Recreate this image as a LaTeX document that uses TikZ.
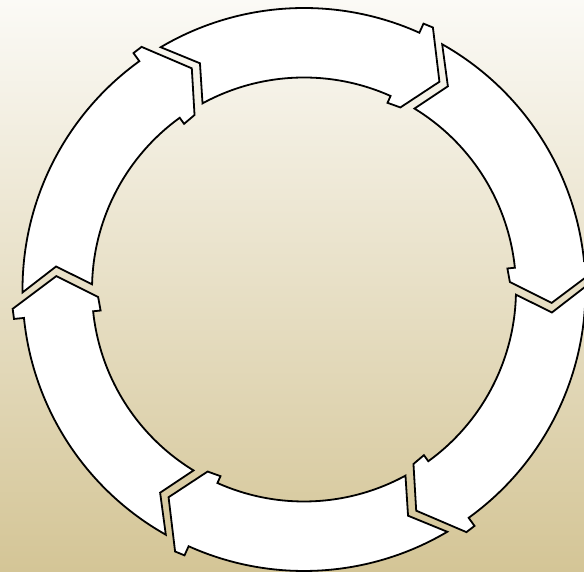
\documentclass[tikz,border=0pt]{standalone}
\definecolor{bgtop}{RGB}{251,250,246}
\definecolor{bgbot}{RGB}{212,197,150}
\begin{document}
\begin{tikzpicture}[x=1pt,y=1pt,
  seg/.style={fill=white,draw=black,line width=1.8pt,line join=miter}]
\useasboundingbox (0,0) rectangle (584,572);
\clip (0,0) rectangle (584,572);
\shade[top color=bgtop,bottom color=bgbot] (0,0) rectangle (584,572);
\begin{scope}[shift={(304pt,282.5pt)}]
\foreach \k in {0,...,5}{
  \pgfmathsetmacro{\t}{116.9-60*\k}
  \pgfmathsetmacro{\a}{\t+63.7}
  \pgfmathsetmacro{\b}{\t+8.9}
  \pgfmathsetmacro{\c}{\t+6.9}
  \pgfmathsetmacro{\e}{\t+5.2}
  \pgfmathsetmacro{\f}{\t+9}
  \pgfmathsetmacro{\g}{\t+61.7}
  \pgfmathsetmacro{\h}{\t+57.8}
  \path[seg] (\a:281.5pt) arc[start angle=\a, end angle=\b, radius=281.5pt]
    -- (\b:291.5pt) -- (\c:292pt) -- (\t:248pt) -- (\e:206pt) -- (\f:204.5pt)
    -- (\f:212pt) arc[start angle=\f, end angle=\g, radius=212pt]
    -- (\h:249pt) -- cycle;
}
\end{scope}
\end{tikzpicture}
\end{document}
